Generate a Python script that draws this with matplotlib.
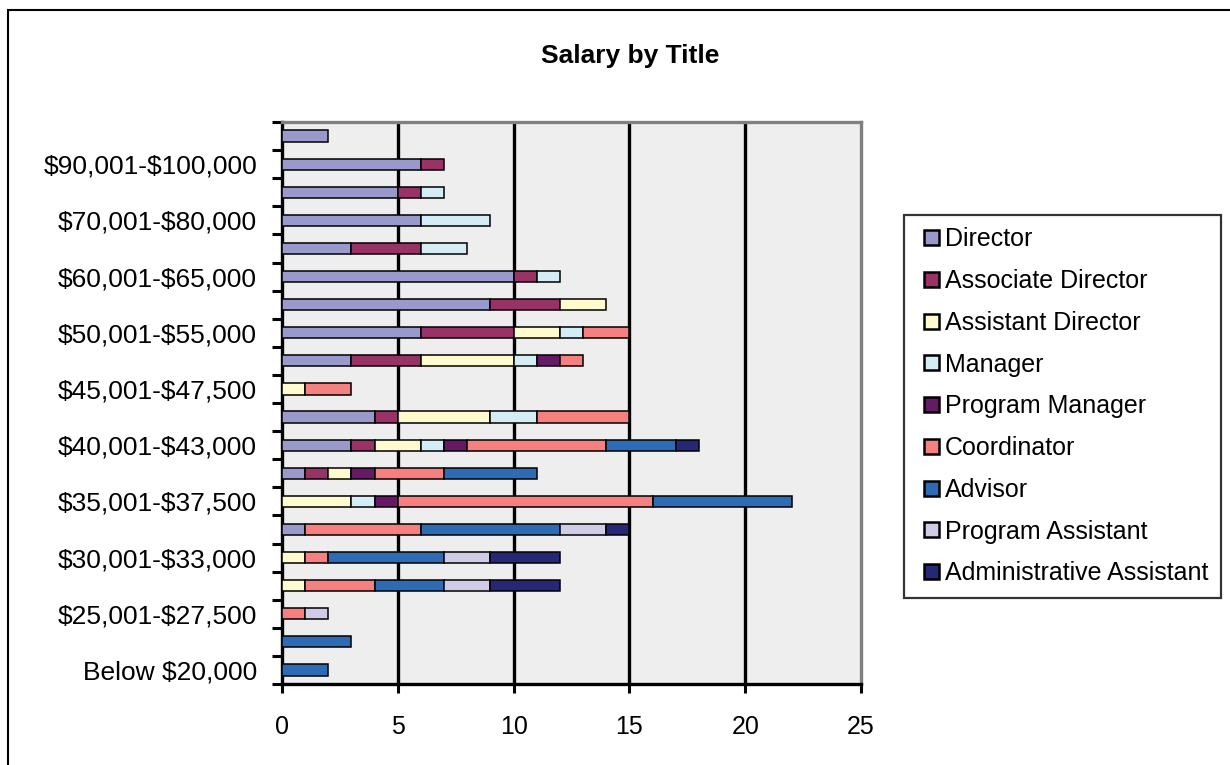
import numpy as np
import matplotlib
matplotlib.use("Agg")
import matplotlib.pyplot as plt
from matplotlib.patches import Rectangle, Patch
from matplotlib.legend_handler import HandlerPatch

plt.rcParams['font.family'] = ['Liberation Sans', 'DejaVu Sans']
plt.rcParams['text.parse_math'] = False

# salary bands, bottom to top
bands = ["Below $20,000", "$20,001-$25,000", "$25,001-$27,500", "$27,501-$30,000",
         "$30,001-$33,000", "$33,001-$35,000", "$35,001-$37,500", "$37,501-$40,000",
         "$40,001-$43,000", "$43,001-$45,000", "$45,001-$47,500", "$47,501-$50,000",
         "$50,001-$55,000", "$55,001-$60,000", "$60,001-$65,000", "$65,001-$70,000",
         "$70,001-$80,000", "$80,001-$90,000", "$90,001-$100,000", "Above $100,000"]

titles = ["Director", "Associate Director", "Assistant Director", "Manager",
          "Program Manager", "Coordinator", "Advisor", "Program Assistant",
          "Administrative Assistant"]

director      = [0, 0, 0, 0, 0, 1, 0, 1, 3, 4, 0, 3, 6, 9, 10, 3, 6, 5, 6, 2]
assoc_dir     = [0, 0, 0, 0, 0, 0, 0, 1, 1, 1, 0, 3, 4, 3, 1, 3, 0, 1, 1, 0]
asst_dir      = [0, 0, 0, 1, 1, 0, 3, 1, 2, 4, 1, 4, 2, 2, 0, 0, 0, 0, 0, 0]
manager       = [0, 0, 0, 0, 0, 0, 1, 0, 1, 2, 0, 1, 1, 0, 1, 2, 3, 1, 0, 0]
prog_manager  = [0, 0, 0, 0, 0, 0, 1, 1, 1, 0, 0, 1, 0, 0, 0, 0, 0, 0, 0, 0]
coordinator   = [0, 0, 1, 3, 1, 5, 11, 3, 6, 4, 2, 1, 2, 0, 0, 0, 0, 0, 0, 0]
advisor       = [2, 3, 0, 3, 5, 6, 6, 4, 3, 0, 0, 0, 0, 0, 0, 0, 0, 0, 0, 0]
prog_asst     = [0, 0, 1, 2, 2, 2, 0, 0, 0, 0, 0, 0, 0, 0, 0, 0, 0, 0, 0, 0]
admin_asst    = [0, 0, 0, 3, 3, 1, 0, 0, 1, 0, 0, 0, 0, 0, 0, 0, 0, 0, 0, 0]

series = [director, assoc_dir, asst_dir, manager, prog_manager,
          coordinator, advisor, prog_asst, admin_asst]
colors = ["#9999CC", "#993366", "#FFFBCF", "#D4ECF4", "#661A66",
          "#F48080", "#2E6BB5", "#D0CCE8", "#272875"]

fig = plt.figure(figsize=(12.3, 7.65), dpi=100)
ax = fig.add_axes([282/1230, 1 - 684/765, (861 - 282)/1230, (684 - 122)/765])
ax.set_facecolor("#EEEEEE")

# stacked horizontal bars, skip empty segments
y = np.arange(len(bands))
left = np.zeros(len(bands))
for vals, col in zip(series, colors):
    vals = np.array(vals, dtype=float)
    m = vals > 0
    ax.barh(y[m], vals[m], left=left[m], height=0.4, color=col,
            edgecolor="black", linewidth=1.1, zorder=3)
    left += vals

ax.set_xlim(0, 25)
ax.set_ylim(-0.5, len(bands) - 0.5)

# vertical gridlines
for gx in [5, 10, 15, 20]:
    ax.axvline(gx, color="black", lw=2.4, zorder=1)

ax.set_xticks(range(0, 26, 5))
ax.tick_params(axis="x", direction="out", length=6.5, width=2.2, pad=16,
               labelsize=18, colors="black")

ax.set_yticks(y[::2])
ax.set_yticklabels(bands[::2])
ax.set_yticks(np.arange(-0.5, len(bands), 1), minor=True)
ax.tick_params(axis="y", which="major", length=0, pad=18, labelsize=19)
ax.tick_params(axis="y", which="minor", direction="out", length=7, width=2.2)

for s in ["left", "bottom"]:
    ax.spines[s].set_color("black")
    ax.spines[s].set_linewidth(2.4)
for s in ["top", "right"]:
    ax.spines[s].set_color("#808080")
    ax.spines[s].set_linewidth(2.4)

# legend
handles = [Patch(facecolor=c, edgecolor="black", linewidth=1.8) for c in colors]
leg = fig.legend(handles, titles, loc="upper left",
                 bbox_to_anchor=(904/1230, 1 - 215/765), fontsize=18,
                 frameon=True, fancybox=False, borderpad=0.5,
                 handlelength=0.9, handleheight=0.55, handletextpad=0.24,
                 labelspacing=0.71, borderaxespad=0,
                 handler_map={Patch: HandlerPatch(xpad=0.3)})
leg.get_frame().set_edgecolor("black")
leg.get_frame().set_linewidth(1.6)

fig.text(630/1230, 1 - 56/765, "Salary by Title", ha="center", va="center",
         fontsize=19, fontweight="bold",
         family=["Liberation Sans Narrow", "Liberation Sans"])

# outer chart border
fig.add_artist(Rectangle((8/1230, -0.1), 1.2, 1 - 10/765 + 0.1,
                         transform=fig.transFigure, fill=False,
                         lw=1.5, ec="black"))

fig.savefig("out.png", dpi=100, facecolor="white")
